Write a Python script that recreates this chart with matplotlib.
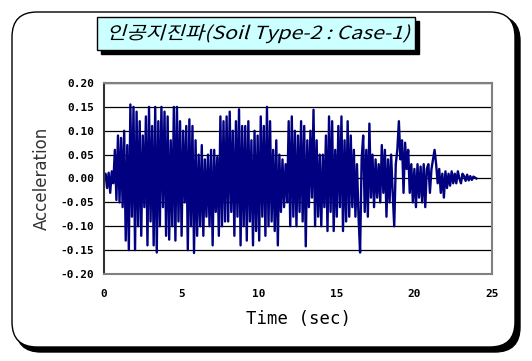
import matplotlib
matplotlib.use("Agg")
import numpy as np
import matplotlib.pyplot as plt
from matplotlib.patches import FancyBboxPatch, Rectangle, PathPatch
from matplotlib.textpath import TextPath
from matplotlib.font_manager import FontProperties
from matplotlib.transforms import Affine2D, IdentityTransform

title = "인공지진파(Soil Type-2 : Case-1)"
dt = 0.1
# acceleration, one row per second
accel = [
    0.000, 0.010, -0.020, 0.012, -0.030, 0.015, -0.010, 0.060, -0.045, 0.090,
    -0.050, 0.085, -0.060, 0.100, -0.130, 0.070, -0.150, 0.155, -0.080, 0.150,
    -0.150, 0.140, -0.100, 0.120, -0.120, 0.090, -0.060, 0.130, -0.140, 0.150,
    -0.090, 0.110, -0.140, 0.150, -0.155, 0.120, -0.100, 0.150, -0.060, 0.140,
    -0.120, 0.130, -0.128, 0.080, -0.100, 0.150, -0.130, 0.150, -0.090, 0.120,
    -0.120, 0.100, -0.050, 0.110, -0.150, 0.124, -0.100, 0.110, -0.156, 0.080,
    -0.120, 0.050, -0.100, 0.070, -0.120, 0.040, -0.080, 0.050, -0.100, 0.060,
    -0.140, 0.060, -0.070, 0.045, -0.120, 0.130, -0.100, 0.120, -0.090, 0.130,
    -0.090, 0.140, -0.070, 0.100, -0.120, 0.120, -0.080, 0.145, -0.140, 0.110,
    -0.100, 0.110, -0.130, 0.120, -0.090, 0.080, -0.140, 0.100, -0.110, 0.090,
    -0.130, 0.130, -0.080, 0.110, -0.120, 0.150, -0.100, 0.120, -0.090, 0.060,
    -0.110, 0.080, -0.140, 0.050, -0.070, 0.040, -0.060, 0.030, -0.050, 0.120,
    -0.100, 0.130, -0.080, 0.100, -0.100, 0.090, -0.070, 0.120, -0.090, 0.110,
    -0.142, 0.080, -0.060, 0.100, -0.040, 0.144, -0.100, 0.080, -0.080, 0.050,
    -0.100, 0.050, -0.060, 0.090, -0.110, 0.130, -0.070, 0.120, -0.110, 0.060,
    -0.080, 0.110, -0.060, 0.130, -0.110, 0.080, -0.090, 0.120, -0.080, 0.090,
    -0.060, 0.060, -0.080, 0.030, -0.080, -0.155, 0.040, 0.090, -0.070, 0.060,
    -0.080, 0.115, -0.040, 0.050, -0.060, 0.040, -0.040, 0.030, -0.050, 0.070,
    -0.030, 0.060, -0.080, 0.040, -0.050, 0.050, -0.030, -0.100, 0.030, 0.060,
    0.120, 0.040, 0.080, -0.030, 0.075, 0.020, 0.060, -0.030, 0.030, -0.050,
    0.020, -0.060, 0.030, -0.040, 0.025, -0.050, 0.030, -0.060, 0.020, 0.030,
    -0.030, 0.020, 0.040, 0.060, 0.030, -0.010, 0.020, -0.030, 0.010, -0.040,
    0.015, -0.020, 0.010, -0.015, 0.015, -0.010, 0.010, -0.010, 0.015, 0.000,
    -0.010, 0.010, 0.005, -0.005, 0.008, -0.004, 0.005, -0.003, 0.004, 0.002,
    0.000,
]
time = np.arange(len(accel)) * dt
yticks = [-0.20, -0.15, -0.10, -0.05, 0.00, 0.05, 0.10, 0.15, 0.20]
xticks = [0, 5, 10, 15, 20, 25]

W, H = 532, 361
fig = plt.figure(figsize=(W / 100, H / 100), dpi=100)


def box_in(x0, y0, x1, y1):
    # pixel box (top-left origin) -> inches box for dpi_scale_trans
    return x0 / 100, (H - y1) / 100, (x1 - x0) / 100, (y1 - y0) / 100


# outer rounded frame with shadow
x, y, w, h = box_in(16, 16, 520, 352)
fig.add_artist(FancyBboxPatch((x, y), w, h, boxstyle="round,pad=0,rounding_size=0.25",
                              transform=fig.dpi_scale_trans, fc="black", ec="black", zorder=-3))
x, y, w, h = box_in(12, 12, 515, 347)
fig.add_artist(FancyBboxPatch((x, y), w, h, boxstyle="round,pad=0,rounding_size=0.25",
                              transform=fig.dpi_scale_trans, fc="white", ec="black", lw=1, zorder=-2))

# title box with shadow
x, y, w, h = box_in(101, 21, 419, 54)
fig.add_artist(Rectangle((x, y), w, h, transform=fig.dpi_scale_trans, fc="black", ec="black", zorder=2))
x, y, w, h = box_in(97, 17, 415, 50)
fig.add_artist(Rectangle((x, y), w, h, transform=fig.dpi_scale_trans, fc="#ccffff", ec="black", lw=1, zorder=3))

# slanted title text
tp = TextPath((0, 0), title, size=20, prop=FontProperties(family="Noto Sans CJK KR"))
ext = tp.get_extents()
s = 300 / ext.width
tr = (Affine2D().translate(-ext.x0 - ext.width / 2, 0).skew_deg(14, 0).scale(s * 1.0, s * 0.85)
      .translate(258, H - 39))
fig.add_artist(PathPatch(tr.transform_path(tp), transform=IdentityTransform(),
                         fc="black", ec="none", zorder=4))

ax = fig.add_axes([104 / W, (H - 274) / H, 388 / W, 191 / H])
ax.plot(time, accel, color="#000080", lw=1.7)
ax.set_xlim(0, 25)
ax.set_ylim(-0.20, 0.20)
ax.set_xticks(xticks)
ax.set_yticks(yticks)
ax.set_yticklabels(["%.2f" % v for v in yticks])
ax.grid(axis="y", color="black", lw=0.9)
ax.set_axisbelow(True)
ax.tick_params(length=0, labelsize=8, pad=7)
ax.tick_params(axis="x", pad=11)
for lab in ax.get_xticklabels() + ax.get_yticklabels():
    lab.set_fontweight("bold")
    lab.set_family("DejaVu Sans Mono")
for side in ["top", "right", "bottom"]:
    ax.spines[side].set_color("#808080")
    ax.spines[side].set_linewidth(1.5)
ax.spines["left"].set_color("#333333")
ax.spines["left"].set_linewidth(1.5)

ax.set_ylabel("Acceleration", fontsize=12, color="#333333", labelpad=7)
ax.set_xlabel("Time (sec)", fontsize=12.5, family="DejaVu Sans Mono", labelpad=8)

fig.savefig("out.png", dpi=100)
